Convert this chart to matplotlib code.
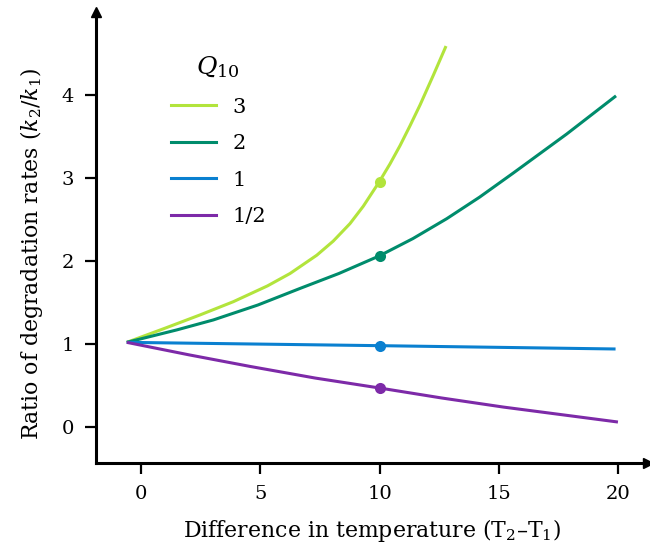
import matplotlib
matplotlib.use("Agg")
import matplotlib.pyplot as plt
from matplotlib.lines import Line2D

plt.rcParams['font.family'] = ['DejaVu Serif']
plt.rcParams['mathtext.fontset'] = 'dejavuserif'

# values
q3_x = [-0.6, 1.0, 2.47, 3.87, 5.3, 6.25, 7.37, 8.06, 8.76, 9.32, 9.98,
        10.44, 10.86, 11.28, 11.70, 12.26, 12.79]
q3_y = [1.02, 1.19, 1.35, 1.51, 1.70, 1.85, 2.07, 2.24, 2.45, 2.66, 2.95,
        3.17, 3.39, 3.63, 3.88, 4.24, 4.59]

q2_x = [-0.6, 1.5, 3.03, 4.9, 6.67, 8.3, 9.98, 11.4, 12.82, 14.2,
        15.61, 17.85, 19.92]
q2_y = [1.02, 1.17, 1.29, 1.47, 1.67, 1.85, 2.06, 2.27, 2.51, 2.77,
        3.06, 3.53, 3.99]

q1_x = [-0.6, 10.0, 19.9]
q1_y = [1.02, 0.98, 0.94]

qh_x = [-0.6, 2.0, 4.57, 7.3, 10.0, 12.6, 15.2, 17.6, 20.0]
qh_y = [1.02, 0.87, 0.73, 0.59, 0.47, 0.35, 0.24, 0.15, 0.06]

# marked points at a 10 degree difference
dot_x = [10, 10, 10, 10]
dot_y = [2.95, 2.06, 0.98, 0.47]

labels = ["3", "2", "1", "1/2"]
colors = ["#b2e43c", "#008c6c", "#0a80d0", "#7d2aa8"]

x_ticks = [0, 5, 10, 15, 20]
y_ticks = [0, 1, 2, 3, 4]

fig = plt.figure(figsize=(6.5, 5.49), dpi=100)
ax = fig.add_axes([0.1477, 0.1566, 0.8492, 0.8215])

series = [(q3_x, q3_y), (q2_x, q2_y), (q1_x, q1_y), (qh_x, qh_y)]
for (xs, ys), c in zip(series, colors):
    ax.plot(xs, ys, color=c, lw=2.2, solid_capstyle='butt', solid_joinstyle='round')
for xd, yd, c in zip(dot_x, dot_y, colors):
    ax.plot(xd, yd, 'o', color=c, ms=8, mec='none')

ax.set_xlim(-1.89, 21.26)
ax.set_ylim(-0.434, 5.0)
ax.set_xticks(x_ticks)
ax.set_yticks(y_ticks)

for s in ['top', 'right']:
    ax.spines[s].set_visible(False)
for s in ['left', 'bottom']:
    ax.spines[s].set_linewidth(2.2)
ax.tick_params(width=1.6, length=8, labelsize=14, pad=8, direction='out')

# arrow heads on the axes
ax.plot(0, 1, '^k', ms=7, transform=ax.transAxes, clip_on=False)
ax.plot(1, 0, '>k', ms=7, transform=ax.transAxes, clip_on=False)

ax.set_xlabel('Difference in temperature (T$_2$\u2013T$_1$)', fontsize=15.8, labelpad=10)
ax.set_ylabel('Ratio of degradation rates ($k_2/k_1$)', fontsize=15.8)
ax.yaxis.set_label_coords(-0.092, 0.4645)

handles = [Line2D([], [], color=c, lw=2.2) for c in colors]
leg = ax.legend(handles, labels, title='$Q_{10}$', frameon=False, fontsize=15,
                title_fontsize=18, loc='upper left', bbox_to_anchor=(0.101, 0.948),
                handlelength=2.16, handletextpad=0.8, labelspacing=0.84)

fig.savefig("out.png", dpi=100)
